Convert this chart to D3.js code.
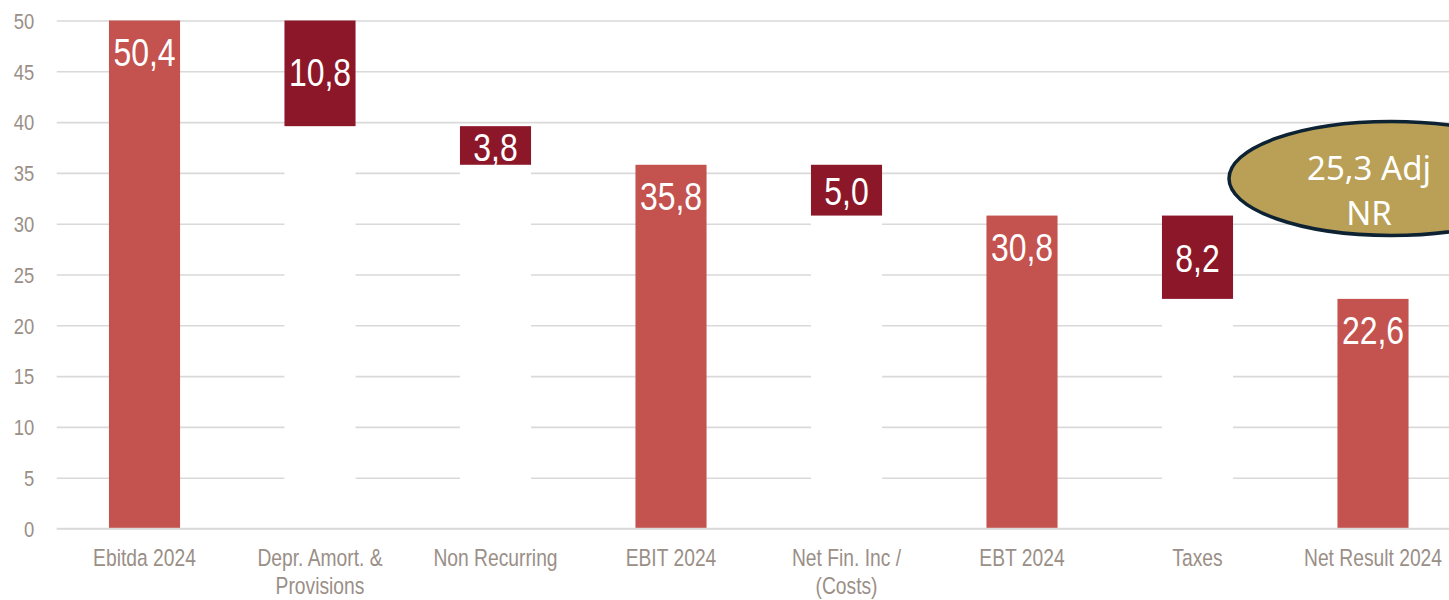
<!DOCTYPE html>
<html>
<head>
<meta charset="utf-8">
<script src="https://cdn.jsdelivr.net/npm/d3@7"></script>
<style>
  html, body { margin: 0; padding: 0; background: #fff; }
  svg { display: block; }
  .narrow { font-family: 'Liberation Sans', Arial, sans-serif; }
</style>
</head>
<body>
<svg id="chart" width="1449" height="600"></svg>
<script>
// ---- data ----
const categories = ["Ebitda 2024", "Depr. Amort. & Provisions", "Non Recurring", "EBIT 2024",
                    "Net Fin. Inc / (Costs)", "EBT 2024", "Taxes", "Net Result 2024"];
const categoryLines = [["Ebitda 2024"], ["Depr. Amort. &", "Provisions"], ["Non Recurring"], ["EBIT 2024"],
                       ["Net Fin. Inc /", "(Costs)"], ["EBT 2024"], ["Taxes"], ["Net Result 2024"]];
const values = [50.4, -10.8, -3.8, 35.8, -5.0, 30.8, -8.2, 22.6];
const kinds = ["total", "delta", "delta", "total", "delta", "total", "delta", "total"];
const yTicks = [0, 5, 10, 15, 20, 25, 30, 35, 40, 45, 50];
const adjNR = 25.3;
const adjNRLines = ["25,3 Adj", "NR"];

// ---- build waterfall rows ----
let running = 0;
const rows = categories.map((c, i) => {
  let lo, hi;
  if (kinds[i] === "total") { lo = 0; hi = values[i]; running = values[i]; }
  else { hi = running; lo = running + values[i]; running = lo; }
  return { cat: c, lines: categoryLines[i], kind: kinds[i], value: values[i], lo, hi };
});

const svg = d3.select("#chart");
const W = 1449, H = 600;
const left = 56.75, step = 175.5;
const SX = 0.82; // horizontal condensing to mimic a narrow face
const x = d3.scaleBand().domain(categories).range([left, left + step * categories.length]).paddingInner(0.595).paddingOuter(0.2975);
const y = d3.scaleLinear().domain([0, 50]).range([528.5, 20.5]);

const locale = d3.formatLocale({ decimal: ",", thousands: ".", grouping: [3], currency: ["", ""] });
const fmt = locale.format(".1f");

const colTotal = "#c4524f", colDelta = "#8c1729", gridCol = "#d9d9d9", textCol = "#9a8f87";

svg.append("defs").append("clipPath").attr("id", "plotclip")
  .append("rect").attr("x", left).attr("y", y(50)).attr("width", W - left).attr("height", y(0) - y(50) + 2);

// gridlines
const yAxis = d3.axisLeft(y).tickValues(yTicks).tickSize(-(W - left)).tickFormat(d3.format("d"));
const gy = svg.append("g").attr("transform", `translate(${left},0)`).call(yAxis);
gy.select(".domain").remove();
gy.selectAll(".tick line").attr("stroke", gridCol).attr("stroke-width", 1.6);
gy.selectAll(".tick text").attr("class", "narrow").attr("x", -22.5 / SX).attr("transform", `scale(${SX},1)`)
  .attr("fill", textCol).style("font-size", "22.5px").attr("dy", "0.35em");

const plot = svg.append("g").attr("clip-path", "url(#plotclip)");

// invisible (white) base bars for deltas
plot.selectAll("rect.base").data(rows.filter(r => r.kind === "delta")).join("rect")
  .attr("class", "base")
  .attr("x", d => x(d.cat)).attr("width", x.bandwidth())
  .attr("y", d => y(d.lo)).attr("height", d => y(0) - y(d.lo) - 1)
  .attr("fill", "#fff");

// bars
plot.selectAll("rect.bar").data(rows).join("rect")
  .attr("class", "bar")
  .attr("x", d => x(d.cat)).attr("width", x.bandwidth())
  .attr("y", d => y(d.hi)).attr("height", d => y(d.lo) - y(d.hi))
  .attr("fill", d => d.kind === "total" ? colTotal : colDelta);

// baseline redraw
svg.append("line").attr("x1", left).attr("x2", W).attr("y1", y(0)).attr("y2", y(0))
  .attr("stroke", gridCol).attr("stroke-width", 1.6);

// data labels
svg.selectAll("text.val").data(rows).join("text")
  .attr("class", "val narrow")
  .attr("transform", d => {
    const cx = x(d.cat) + x.bandwidth() / 2;
    const cy = d.kind === "total" ? Math.max(y(d.hi), y(50)) + 31 : (y(d.hi) + y(d.lo)) / 2 + 1;
    return `translate(${cx},${cy}) scale(${SX},1)`;
  })
  .attr("dy", "0.36em")
  .attr("text-anchor", "middle")
  .attr("fill", "#fff")
  .style("font-size", "39px")
  .text(d => fmt(Math.abs(d.value)));

// x labels
const xl = svg.selectAll("g.xl").data(rows).join("g").attr("class", "xl")
  .attr("transform", d => `translate(${x(d.cat) + x.bandwidth() / 2},0) scale(${SX},1)`);
xl.selectAll("text").data(d => d.lines).join("text")
  .attr("class", "narrow")
  .attr("y", (d, i) => 558 + i * 28).attr("dy", "0.35em")
  .attr("text-anchor", "middle").attr("fill", textCol).style("font-size", "23.5px")
  .text(d => d);

// annotation ellipse
const xNR = x(categories[7]) + x.bandwidth() / 2;
svg.append("ellipse")
  .attr("cx", xNR + 18).attr("cy", y(adjNR) - 93)
  .attr("rx", 162).attr("ry", 57)
  .attr("fill", "#b9a056").attr("stroke", "#0d2233").attr("stroke-width", 3.5);
svg.append("text").attr("text-anchor", "middle")
  .style("font-family", "'Noto Sans', 'Open Sans', sans-serif").style("font-size", "33px")
  .attr("fill", "#fff")
  .selectAll("tspan").data(adjNRLines).join("tspan")
  .attr("x", xNR - 4).attr("y", (d, i) => y(adjNR) - 103 + i * 45)
  .attr("dy", "0.35em")
  .text(d => d);
</script>
</body>
</html>
